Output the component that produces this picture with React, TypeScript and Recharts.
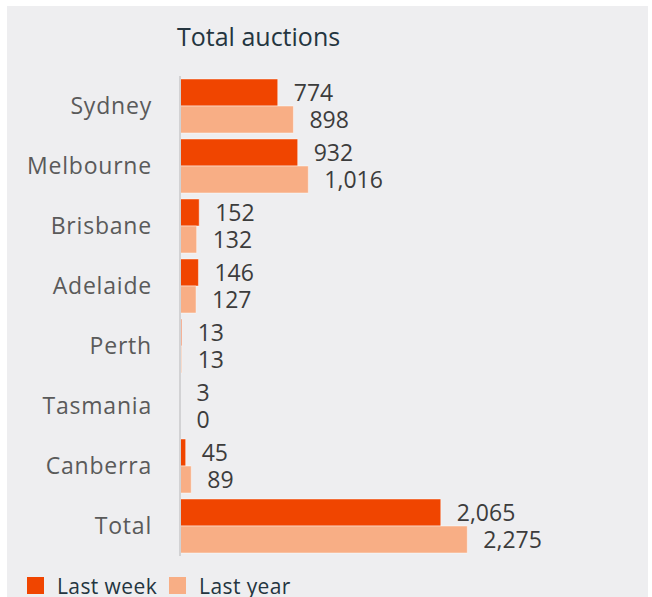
import { Bar, BarChart, LabelList, Legend, XAxis, YAxis } from "recharts";

const cities = ["Sydney", "Melbourne", "Brisbane", "Adelaide", "Perth", "Tasmania", "Canberra", "Total"];
const lastWeek = [774, 932, 152, 146, 13, 3, 45, 2065];
const lastYear = [898, 1016, 132, 127, 13, 0, 89, 2275];

const series = [
  { key: "lastWeek", name: "Last week", color: "#f04500" },
  { key: "lastYear", name: "Last year", color: "#f8ae85" },
];

const rows = cities.map((city, i) => ({
  city,
  lastWeek: lastWeek[i],
  lastYear: lastYear[i],
}));

const FONT = "'Open Sans', 'Noto Sans', sans-serif";

const fmt = (v: unknown) => Number(v).toLocaleString("en-US");

function LegendRow() {
  return (
    <div style={{ display: "flex", alignItems: "center", height: 41, paddingTop: 18, paddingLeft: 20, boxSizing: "border-box" }}>
      {series.map((s) => (
        <div key={s.key} style={{ display: "flex", alignItems: "center", marginRight: 12 }}>
          <span style={{ width: 17, height: 17, background: s.color, display: "inline-block", marginRight: 13 }} />
          <span style={{ fontFamily: FONT, fontSize: 21, lineHeight: "20px", letterSpacing: 0.4, color: "#243540" }}>{s.name}</span>
        </div>
      ))}
    </div>
  );
}

export default function App() {
  return (
    <div style={{ position: "absolute", left: 0, top: 0, width: 652, height: 597, background: "#ffffff", overflow: "hidden" }}>
      <div style={{ position: "absolute", left: 7, top: 6, width: 641, height: 591, background: "#eeeef0" }}>
        <div
          style={{
            position: "absolute",
            left: 170,
            top: 13,
            fontFamily: FONT,
            fontSize: 25,
            color: "#243540",
            whiteSpace: "nowrap",
          }}
        >
          Total auctions
        </div>
        <BarChart
          width={641}
          height={591}
          data={rows}
          layout="vertical"
          barCategoryGap={3}
          barGap={0}
          margin={{ top: 70, right: 26, bottom: 0, left: 0 }}
        >
          <XAxis type="number" hide domain={[0, 3500]} />
          <YAxis
            type="category"
            dataKey="city"
            width={173}
            axisLine={{ stroke: "#d2d2d4", strokeWidth: 2 }}
            tickLine={false}
            tickSize={0}
            tickMargin={28}
            tick={{ fontFamily: FONT, fontSize: 23, fill: "#5a5a5a", letterSpacing: 0.8 }}
          />
          <Legend verticalAlign="bottom" align="left" content={() => <LegendRow />} />
          {series.map((s) => (
            <Bar
              key={s.key}
              dataKey={s.key}
              name={s.name}
              fill={s.color}
              stroke="#ffffff"
              strokeOpacity={0.45}
              strokeWidth={1}
              minPointSize={0.5}
              isAnimationActive={false}
            >
              <LabelList
                dataKey={s.key}
                position="right"
                offset={16}
                formatter={fmt}
                style={{ fontFamily: FONT, fontSize: 23, fill: "#3c3c3c" }}
              />
            </Bar>
          ))}
        </BarChart>
      </div>
    </div>
  );
}
